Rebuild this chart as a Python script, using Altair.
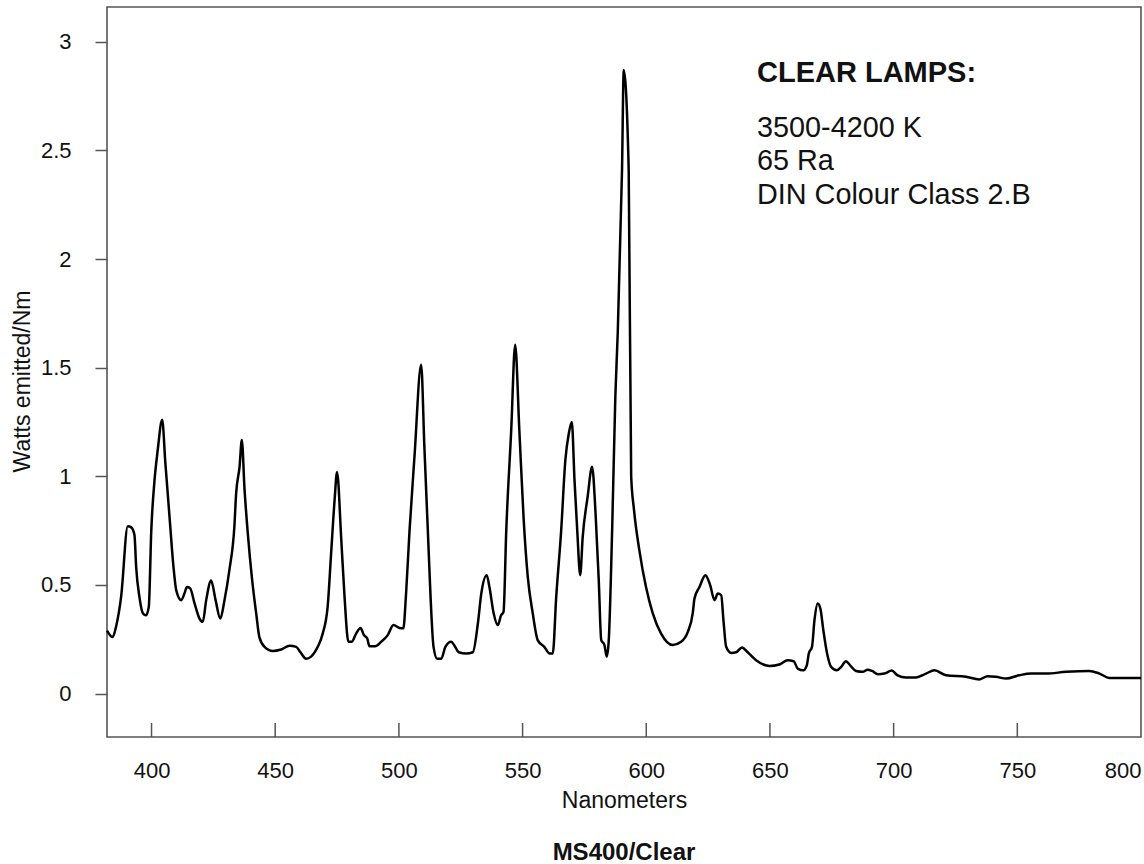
import altair as alt
import pandas as pd

# Spectral power distribution of an MS400 clear metal-halide lamp
wavelength_nm = [
    382.0, 384.3, 385.7, 387.7, 390.4, 391.8, 393.1, 393.8, 395.1, 396.5,
    397.8, 398.9, 399.9, 401.2, 402.5, 404.3, 405.6, 407.3, 408.9, 410.0,
    412.0, 413.3, 414.3, 415.6, 417.4, 419.4, 420.7, 422.1, 424.1, 425.9,
    427.8, 429.5, 431.5, 433.5, 434.2, 435.6, 436.5, 437.6, 438.9, 440.7,
    442.3, 443.6, 445.7, 449.0, 452.4, 455.8, 458.5, 460.2, 462.5, 464.5,
    467.2, 469.2, 471.2, 472.6, 474.0, 475.0, 476.7, 478.0, 479.6, 480.9,
    482.7, 484.5, 485.8, 487.2, 488.1, 490.4, 492.8, 495.5, 497.8, 500.2,
    501.8, 502.9, 504.3, 506.3, 509.0, 510.3, 511.7, 512.8, 514.0, 515.5,
    517.1, 518.8, 521.1, 522.5, 524.2, 527.2, 529.9, 531.9, 533.3, 535.5,
    536.6, 538.3, 540.0, 541.3, 542.3, 543.4, 545.4, 547.0, 548.7, 550.4,
    552.1, 554.1, 556.1, 558.8, 560.9, 562.2, 563.6, 565.6, 567.3, 568.7,
    569.9, 571.0, 572.1, 573.3, 574.3, 576.3, 578.1, 579.5, 580.8, 581.8,
    583.1, 584.0, 584.8, 586.2, 587.5, 588.5, 590.2, 590.9, 592.9, 593.9,
    595.0, 597.2, 599.9, 602.6, 606.0, 610.7, 614.1, 616.8, 618.8, 619.5,
    621.5, 623.9, 625.8, 627.6, 628.9, 630.3, 631.2, 632.3, 634.3, 636.3,
    638.7, 641.0, 644.4, 649.8, 653.8, 657.2, 659.6, 661.2, 663.5, 664.9,
    665.7, 667.0, 668.0, 669.3, 670.4, 671.6, 673.1, 674.7, 677.0, 678.8,
    680.7, 682.4, 684.8, 687.5, 689.5, 691.3, 693.6, 696.3, 699.2, 701.6,
    705.0, 709.1, 713.1, 716.5, 721.2, 729.3, 734.7, 738.0, 741.4, 745.5,
    750.8, 755.6, 761.6, 769.7, 779.1, 783.2, 787.2, 797.3, 800.0,
]
watts_emitted = [
    0.29, 0.26, 0.31, 0.445, 0.77, 0.765, 0.73, 0.58, 0.445, 0.37,
    0.36, 0.40, 0.75, 0.98, 1.12, 1.26, 1.06, 0.81, 0.58, 0.475,
    0.43, 0.46, 0.49, 0.485, 0.415, 0.345, 0.33, 0.43, 0.52, 0.43,
    0.345, 0.43, 0.57, 0.77, 0.92, 1.045, 1.167, 0.94, 0.74, 0.52,
    0.37, 0.26, 0.215, 0.196, 0.203, 0.22, 0.215, 0.19, 0.16, 0.17,
    0.215, 0.276, 0.40, 0.645, 0.89, 1.02, 0.71, 0.45, 0.238, 0.238,
    0.276, 0.302, 0.27, 0.253, 0.218, 0.218, 0.238, 0.269, 0.315, 0.302,
    0.30, 0.46, 0.75, 1.09, 1.513, 1.136, 0.75, 0.445, 0.215, 0.16,
    0.16, 0.215, 0.238, 0.22, 0.19, 0.184, 0.19, 0.32, 0.46, 0.545,
    0.49, 0.37, 0.315, 0.36, 0.376, 0.75, 1.21, 1.605, 1.21, 0.81,
    0.537, 0.37, 0.246, 0.215, 0.184, 0.184, 0.445, 0.75, 1.075, 1.198,
    1.25, 0.98, 0.75, 0.545, 0.72, 0.906, 1.044, 0.83, 0.52, 0.246,
    0.223, 0.17, 0.238, 0.75, 1.367, 1.67, 2.41, 2.87, 2.41, 1.0,
    0.85, 0.66, 0.49, 0.37, 0.276, 0.223, 0.238, 0.284, 0.37, 0.438,
    0.49, 0.545, 0.50, 0.43, 0.46, 0.453, 0.338, 0.215, 0.187, 0.19,
    0.212, 0.19, 0.153, 0.127, 0.134, 0.153, 0.149, 0.115, 0.107, 0.13,
    0.184, 0.215, 0.338, 0.415, 0.39, 0.29, 0.184, 0.123, 0.107, 0.123,
    0.149, 0.13, 0.104, 0.10, 0.11, 0.104, 0.089, 0.092, 0.106, 0.084,
    0.074, 0.074, 0.092, 0.107, 0.084, 0.077, 0.065, 0.08, 0.077, 0.069,
    0.084, 0.092, 0.092, 0.10, 0.104, 0.092, 0.072, 0.072, 0.072,
]

x_tick_values = [400, 450, 500, 550, 600, 650, 700, 750, 800]
y_tick_values = [0, 0.5, 1, 1.5, 2, 2.5, 3]

x_title = "Nanometers"
y_title = "Watts emitted/Nm"
lamp_heading = "CLEAR LAMPS:"
lamp_specs = ["3500-4200 K", "65 Ra", "DIN Colour Class 2.B"]
chart_caption = "MS400/Clear"

W, H = 1034, 730
FONT = "Liberation Sans"
INK = "#111111"
FRAME = "#555555"

spectrum = pd.DataFrame({"nm": wavelength_nm, "watts": watts_emitted})
inner_ticks = pd.DataFrame({"nm": [v for v in x_tick_values if v < 800]})

x_scale = alt.Scale(domain=[382, 800], nice=False, zero=False)
y_scale = alt.Scale(domain=[-0.2, 3.16], nice=False, zero=False)

x_enc = alt.X(
    "nm:Q",
    scale=x_scale,
    title=x_title,
    axis=alt.Axis(
        values=x_tick_values,
        ticks=False,
        domain=False,
        grid=False,
        labelFlush=True,
        labelPadding=23,
        labelFontSize=22,
        labelFont=FONT,
        labelColor=INK,
        titleFont=FONT,
        titleFontSize=23,
        titleFontWeight="normal",
        titleColor=INK,
        titleBaseline="alphabetic",
        titleY=70,
    ),
)

y_enc = alt.Y(
    "watts:Q",
    scale=y_scale,
    title=y_title,
    axis=alt.Axis(
        values=y_tick_values,
        labelExpr="format(datum.value, '~g')",
        tickSize=12,
        tickWidth=1.5,
        tickColor=FRAME,
        domain=False,
        grid=False,
        labelPadding=24,
        labelFontSize=22,
        labelFont=FONT,
        labelColor=INK,
        titleFont=FONT,
        titleFontSize=23,
        titleFontWeight="normal",
        titleColor=INK,
        titleAngle=270,
        titleBaseline="middle",
        titleX=-85,
        titleY=374,
    ),
)

curve = alt.Chart(spectrum).mark_line(
    color="black", strokeWidth=2.5, strokeJoin="round", interpolate="monotone"
).encode(x=x_enc, y=y_enc)

# x-axis ticks point up into the plot
tick_marks = alt.Chart(inner_ticks).mark_rule(
    color=FRAME, strokeWidth=1.5
).encode(x=x_enc, y=alt.value(H - 14), y2=alt.value(H))

heading = alt.Chart(pd.DataFrame({"t": [lamp_heading]})).mark_text(
    align="left", baseline="alphabetic", font=FONT, fontSize=29,
    fontWeight="bold", color=INK
).encode(x=alt.value(650), y=alt.value(75), text="t:N")

specs = alt.Chart(pd.DataFrame({"t": ["specs"]})).mark_text(
    align="left", baseline="alphabetic", font=FONT, fontSize=28.8,
    lineHeight=33.3, color=INK
).encode(x=alt.value(650), y=alt.value(130), text=alt.value(lamp_specs))

caption = alt.Chart(pd.DataFrame({"t": [chart_caption]})).mark_text(
    align="center", baseline="alphabetic", font=FONT, fontSize=24,
    fontWeight="bold", color=INK
).encode(x=alt.value(W / 2), y=alt.value(853), text="t:N")

chart = (
    alt.layer(curve, tick_marks, heading, specs, caption)
    .properties(
        width=W,
        height=H,
        autosize=alt.AutoSizeParams(type="none"),
        padding={"left": 107, "top": 7, "right": 3, "bottom": 127},
        background="white",
    )
    .configure_view(stroke=FRAME, strokeWidth=1.6)
)

chart.save("out.html", embed_options={"renderer": "svg", "actions": False})
